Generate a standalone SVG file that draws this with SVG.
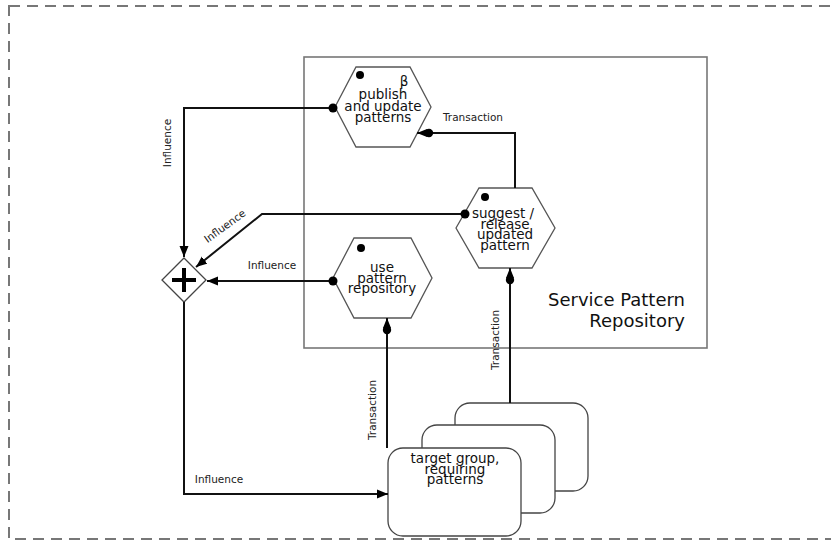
<svg xmlns="http://www.w3.org/2000/svg" width="831" height="543" viewBox="0 0 831 543">
<style>
.hex{fill:#fff;stroke:#555;stroke-width:1.3}
.card{fill:#fff;stroke:#444;stroke-width:1.3}
.con{fill:none;stroke:#111;stroke-width:2}
.t{font-family:"DejaVu Sans",sans-serif;fill:#111;text-anchor:middle}
.ht{font-size:13.5px}
.lbl{font-family:"DejaVu Sans",sans-serif;font-size:10.5px;fill:#222;text-anchor:middle}
.dot{fill:#000}
</style>
<defs>
<marker id="arr" markerUnits="userSpaceOnUse" markerWidth="12" markerHeight="10" refX="11" refY="5" orient="auto">
<path d="M0,0.5 L11,5 L0,9.5 z" fill="#000"/>
</marker>
<marker id="trans" markerUnits="userSpaceOnUse" markerWidth="20" markerHeight="12" refX="18" refY="6" orient="auto">
<circle cx="6" cy="6" r="4.2" fill="#000"/>
<path d="M8,2 L18,6 L8,10 z" fill="#000"/>
</marker>
<marker id="sdot" markerUnits="userSpaceOnUse" markerWidth="10" markerHeight="10" refX="5" refY="5" orient="auto">
<circle cx="5" cy="5" r="4.5" fill="#000"/>
</marker>
</defs>
<rect width="831" height="543" fill="#fff"/>
<rect x="9" y="6" width="840" height="533" fill="none" stroke="#777" stroke-width="2" stroke-dasharray="11,7"/>
<g id="repository">
<rect x="304" y="57" width="403" height="291" fill="none" stroke="#777" stroke-width="1.6"/>
<text class="t" style="font-size:18px;text-anchor:end"><tspan x="685" y="306">Service Pattern</tspan><tspan x="685" y="327">Repository</tspan></text>
</g>
<g id="publish">
<polygon class="hex" points="335,107 356,67 410,67 431,107 410,147 356,147"/>
<circle class="dot" cx="360" cy="75" r="4"/>
<text class="t ht"><tspan x="404" y="86">β</tspan><tspan x="383" y="99">publish</tspan><tspan x="383" y="110.5">and update</tspan><tspan x="383" y="122">patterns</tspan></text>
</g>
<g id="suggest">
<polygon class="hex" points="456,228 479,188 532,188 555,228 532,268 479,268"/>
<circle class="dot" cx="485" cy="197" r="4"/>
<text class="t ht"><tspan x="503" y="218">suggest /</tspan><tspan x="505" y="228.5">release</tspan><tspan x="505" y="239">updated</tspan><tspan x="505" y="249.5">pattern</tspan></text>
</g>
<g id="use">
<polygon class="hex" points="333,278 354,238 411,238 432,278 411,318 354,318"/>
<circle class="dot" cx="361" cy="248" r="4"/>
<text class="t ht"><tspan x="382" y="272">use</tspan><tspan x="382" y="282.5">pattern</tspan><tspan x="382" y="293">repository</tspan></text>
</g>
<g id="merge">
<polygon points="184,258 206,280 184,302 162,280" fill="#fff" stroke="#444" stroke-width="1.3"/>
<path d="M184,268 V292 M172,280 H196" stroke="#000" stroke-width="4"/>
</g>
<g id="target">
<rect class="card" x="455" y="403" width="133" height="88" rx="15"/>
<rect class="card" x="422" y="425" width="133" height="88" rx="15"/>
<rect class="card" x="388" y="448" width="133" height="88" rx="15"/>
<text class="t ht"><tspan x="455" y="463">target group,</tspan><tspan x="455" y="473.5">requiring</tspan><tspan x="455" y="484">patterns</tspan></text>
</g>
<g id="connectors">
<path class="con" d="M333,108 H184 V257" marker-start="url(#sdot)" marker-end="url(#arr)"/>
<path class="con" d="M465,214 H262 L196,267" marker-start="url(#sdot)" marker-end="url(#arr)"/>
<path class="con" d="M333,281 H207" marker-start="url(#sdot)" marker-end="url(#arr)"/>
<path class="con" d="M184,302 V494 H388" marker-end="url(#arr)"/>
<path class="con" d="M387,448 V318" marker-end="url(#trans)"/>
<path class="con" d="M510,403 V268" marker-end="url(#trans)"/>
<path class="con" d="M515,188 V133 H417" marker-end="url(#trans)"/>
<text class="lbl" transform="translate(171,143) rotate(-90)">Influence</text>
<text class="lbl" transform="translate(227,229) rotate(-36)">Influence</text>
<text class="lbl" x="272" y="269">Influence</text>
<text class="lbl" x="219" y="483">Influence</text>
<text class="lbl" transform="translate(376,410) rotate(-90)">Transaction</text>
<text class="lbl" transform="translate(499,340) rotate(-90)">Transaction</text>
<text class="lbl" x="473" y="121">Transaction</text>
</g>
</svg>
